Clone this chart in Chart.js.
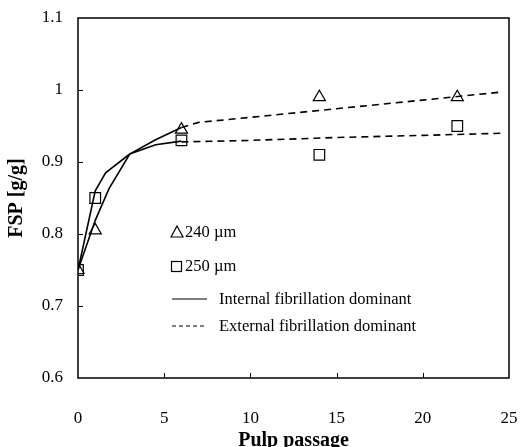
<!DOCTYPE html>
<html>
<head>
<meta charset="utf-8">
<script src="https://cdn.jsdelivr.net/npm/chart.js@4.4.1/dist/chart.umd.min.js"></script>
<style>
  html, body { margin: 0; padding: 0; background: #fff; }
  #wrap { width: 520px; height: 447px; }
</style>
</head>
<body>
<div id="wrap"><canvas id="c" width="520" height="447"></canvas></div>
<script>
// measured points
const passes = [0, 1, 6, 14, 22];
const fsp240 = [0.75, 0.805, 0.945, 0.99, 0.99];
const fsp250 = [0.75, 0.85, 0.93, 0.91, 0.95];

// fitted curves, internal fibrillation dominant (solid)
const intX240 = [0, 1, 1.8, 3, 4.5, 6];
const intY240 = [0.75, 0.819, 0.863, 0.911, 0.931, 0.948];
const intX250 = [0, 1, 1.6, 3, 4.5, 6];
const intY250 = [0.75, 0.86, 0.885, 0.911, 0.924, 0.929];

// fitted curves, external fibrillation dominant (dashed)
const extX240 = [6, 7, 10, 15, 20, 24.5];
const extY240 = [0.948, 0.955, 0.962, 0.974, 0.986, 0.997];
const extX250 = [6, 10, 15, 20, 24.7];
const extY250 = [0.928, 0.930, 0.934, 0.937, 0.940];

const xTicks = [0, 5, 10, 15, 20, 25];
const yTicks = [0.6, 0.7, 0.8, 0.9, 1.0, 1.1];

const pts = (xs, ys) => xs.map((x, i) => ({ x, y: ys[i] }));
const serif = "'Liberation Serif', 'Times New Roman', serif";

const curve = (label, xs, ys, dash) => ({
  label, data: pts(xs, ys), showLine: true, borderColor: '#000', borderWidth: 1.6,
  borderDash: dash, pointRadius: 0, fill: false, tension: 0
});

// box, inward ticks and the in-plot legend
const framePlugin = {
  id: 'frame',
  afterDraw(chart) {
    const { ctx, chartArea: a, scales: { x, y } } = chart;
    ctx.save();
    ctx.strokeStyle = '#000';
    ctx.lineWidth = 1.5;
    ctx.strokeRect(a.left, a.top, a.right - a.left, a.bottom - a.top);
    ctx.lineWidth = 1;
    ctx.beginPath();
    yTicks.slice(1, -1).forEach(v => {
      const py = Math.round(y.getPixelForValue(v)) + 0.5;
      ctx.moveTo(a.left, py); ctx.lineTo(a.left + 5, py);
    });
    xTicks.slice(1, -1).forEach(v => {
      const px = Math.round(x.getPixelForValue(v)) + 0.5;
      ctx.moveTo(px, a.bottom); ctx.lineTo(px, a.bottom - 5);
    });
    ctx.stroke();

    const ds = chart.data.datasets;
    ctx.font = '16.5px ' + serif;
    ctx.fillStyle = '#000';
    ctx.textBaseline = 'middle';
    ctx.textAlign = 'left';
    ctx.lineWidth = 1.2;
    // triangle
    ctx.beginPath();
    ctx.moveTo(177, 226); ctx.lineTo(183, 237); ctx.lineTo(171, 237); ctx.closePath();
    ctx.stroke();
    ctx.fillText(ds[0].label, 185, 233);
    // square
    ctx.strokeRect(171.5, 261.5, 10, 10);
    ctx.fillText(ds[1].label, 185, 267);
    // solid
    ctx.beginPath();
    ctx.moveTo(172, 299); ctx.lineTo(207, 299); ctx.stroke();
    ctx.fillText(ds[2].label, 219, 300);
    ctx.beginPath();
    ctx.setLineDash([4, 3]);
    ctx.moveTo(172, 326); ctx.lineTo(207, 326); ctx.stroke();
    ctx.setLineDash([]);
    ctx.fillText(ds[4].label, 219, 327);
    ctx.restore();
  }
};

new Chart(document.getElementById('c'), {
  type: 'scatter',
  data: {
    datasets: [
      { label: '240 \u00b5m', data: pts(passes, fsp240), pointStyle: 'triangle', pointRadius: 7,
        pointBorderColor: '#000', pointBackgroundColor: 'rgba(0,0,0,0)', pointBorderWidth: 1.2 },
      { label: '250 \u00b5m', data: pts(passes, fsp250), pointStyle: 'rect', pointRadius: 7.5,
        pointBorderColor: '#000', pointBackgroundColor: 'rgba(0,0,0,0)', pointBorderWidth: 1.2 },
      curve('Internal fibrillation dominant', intX240, intY240, []),
      curve('Internal fibrillation dominant', intX250, intY250, []),
      curve('External fibrillation dominant', extX240, extY240, [7, 5]),
      curve('External fibrillation dominant', extX250, extY250, [7, 5])
    ]
  },
  options: {
    responsive: false,
    animation: false,
    layout: { padding: { top: 18, right: 11, left: 0, bottom: 0 } },
    plugins: { legend: { display: false }, tooltip: { enabled: false } },
    scales: {
      x: {
        type: 'linear', min: 0, max: 25,
        afterBuildTicks: s => { s.ticks = xTicks.map(v => ({ value: v })); },
        afterFit: s => { s.height = 69; s.paddingLeft = 0; s.paddingRight = 0; },
        grid: { display: false, drawTicks: false },
        border: { display: false },
        ticks: { padding: 30, color: '#000', maxRotation: 0, font: { family: serif, size: 17 } },
        title: { display: true, text: 'Pulp passage', color: '#000', padding: 0,
                 font: { family: serif, size: 20, weight: 'bold', lineHeight: 0.6 } }
      },
      y: {
        type: 'linear', min: 0.6, max: 1.1,
        afterBuildTicks: s => { s.ticks = yTicks.map(v => ({ value: v })); },
        afterFit: s => { s.width = 78; s.paddingTop = 0; s.paddingBottom = 0; },
        grid: { display: false, drawTicks: false },
        border: { display: false },
        ticks: { padding: 15, color: '#000', font: { family: serif, size: 17 },
                 callback: v => String(Math.round(v * 10) / 10) },
        title: { display: true, text: 'FSP [g/g]', color: '#000', padding: { top: 5 },
                 font: { family: serif, size: 20, weight: 'bold' } }
      }
    }
  },
  plugins: [framePlugin]
});
</script>
</body>
</html>
